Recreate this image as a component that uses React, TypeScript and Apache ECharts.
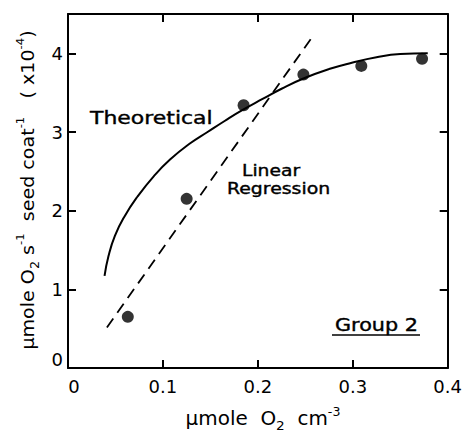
import React, { useEffect, useRef } from "react";
import * as echarts from "echarts";

const measuredPoints: [number, number][] = [
  [0.063, 0.65],
  [0.125, 2.15],
  [0.185, 3.34],
  [0.248, 3.73],
  [0.309, 3.84],
  [0.373, 3.93],
];

const theoreticalCurve: [number, number][] = [
  [0.0385, 1.17],
  [0.0426, 1.42],
  [0.0494, 1.68],
  [0.0597, 1.93],
  [0.0733, 2.18],
  [0.0905, 2.44],
  [0.1075, 2.65],
  [0.128, 2.85],
  [0.147, 3.0],
  [0.165, 3.14],
  [0.184, 3.28],
  [0.205, 3.42],
  [0.225, 3.55],
  [0.248, 3.68],
  [0.275, 3.8],
  [0.299, 3.88],
  [0.325, 3.95],
  [0.35, 3.99],
  [0.379, 4.0],
];

const regressionLine: [number, number][] = [
  [0.041, 0.515],
  [0.258, 4.22],
];

const xTicks = [0, 0.1, 0.2, 0.3, 0.4];
const yTicks = [0, 1, 2, 3, 4];

const FONT = "DejaVu Sans";

export default function App() {
  const ref = useRef<HTMLDivElement>(null);
  useEffect(() => {
    document.body.style.margin = "0";
    const chart = echarts.init(ref.current!, null, { renderer: "svg" });
    const axisLine = { show: true, onZero: false, lineStyle: { color: "#000", width: 2 } };
    const axisTick = { show: true, inside: true, length: 8, lineStyle: { color: "#000", width: 2 } };
    const nameRich = (size: number) => ({
      a: { fontSize: size, fontFamily: FONT, fill: "#000", color: "#000", lineHeight: 26 },
      sub: { fontSize: size - 6, fontFamily: FONT, color: "#000", verticalAlign: "bottom", lineHeight: 26 },
      sup: { fontSize: size - 7, fontFamily: FONT, color: "#000", verticalAlign: "top", lineHeight: 26 },
    });
    const textStyle = (text: string, size: number) => ({
      text,
      fontSize: size,
      fontFamily: FONT,
      fill: "#000",
      stroke: "#000",
      lineWidth: 0.4,
      textAlign: "left",
      textVerticalAlign: "middle",
    });
    chart.setOption({
      animation: false,
      backgroundColor: "#fff",
      grid: { left: 68, right: 6, top: 14, bottom: 66 },
      xAxis: [
        {
          type: "value",
          min: 0,
          max: 0.4,
          interval: 0.1,
          axisLine,
          axisTick,
          splitLine: { show: false },
          axisLabel: {
            color: "#000",
            fontSize: 18,
            fontFamily: FONT,
            margin: 9,
            formatter: (v: number) =>
              xTicks.some((t) => Math.abs(t - v) < 1e-9) ? (v === 0 ? "{z|0}" : v.toFixed(1)) : "",
            rich: { z: { fontSize: 18, fontFamily: FONT, color: "#000", padding: [0, 0, 0, 12] } },
          },
        },
        {
          type: "value",
          position: "top",
          min: 0,
          max: 0.4,
          interval: 0.1,
          axisLine,
          axisTick,
          splitLine: { show: false },
          axisLabel: { show: false },
        },
      ],
      yAxis: [
        {
          type: "value",
          min: 0,
          max: 4.5,
          interval: 1,
          axisLine,
          axisTick,
          splitLine: { show: false },
          axisLabel: {
            color: "#000",
            fontSize: 18,
            fontFamily: FONT,
            margin: 5,
            formatter: (v: number) => (v === 0 ? "{z|0}" : yTicks.includes(v) ? String(v) : ""),
            rich: { z: { fontSize: 18, fontFamily: FONT, color: "#000", padding: [0, 0, 18, 0] } },
          },
        },
        {
          type: "value",
          position: "right",
          min: 0,
          max: 4.5,
          interval: 1,
          axisLine,
          axisTick,
          splitLine: { show: false },
          axisLabel: { show: false },
        },
      ],
      series: [
        {
          type: "line",
          data: theoreticalCurve,
          smooth: 0.5,
          showSymbol: false,
          lineStyle: { color: "#000", width: 2 },
          silent: true,
        },
        {
          type: "line",
          data: regressionLine,
          showSymbol: false,
          lineStyle: { color: "#000", width: 1.8, type: [11, 7] },
          silent: true,
        },
        {
          type: "scatter",
          data: measuredPoints,
          symbol: "circle",
          symbolSize: 12,
          itemStyle: { color: "#000" },
          silent: true,
        },
      ],
      graphic: [
        { type: "text", x: 90, y: 118, scaleX: 1.22, style: textStyle("Theoretical", 18) },
        { type: "text", x: 242, y: 170, scaleX: 1.17, style: textStyle("Linear", 16) },
        { type: "text", x: 227, y: 189, scaleX: 1.18, style: textStyle("Regression", 16) },
        { type: "text", x: 335, y: 325, scaleX: 1.22, style: textStyle("Group 2", 17) },
        {
          type: "line",
          shape: { x1: 332, y1: 335, x2: 420, y2: 335 },
          style: { stroke: "#000", lineWidth: 1.5 },
        },
        {
          type: "text",
          x: 263,
          y: 419,
          scaleX: 1.05,
          style: {
            text: "{a|μmole  O}{sub|2}{a|  cm}{sup|-3}",
            rich: nameRich(19),
            fill: "#000",
            textAlign: "center",
            textVerticalAlign: "middle",
          },
        },
        {
          type: "text",
          x: 28,
          y: 190,
          rotation: Math.PI / 2,
          scaleX: 1.06,
          style: {
            text: "{a|μmole O}{sub|2}{a| s}{sup|-1}{a|  seed coat}{sup|-1}{a|   ( x10}{sup|-4}{a|)}",
            rich: nameRich(18),
            fill: "#000",
            textAlign: "center",
            textVerticalAlign: "middle",
          },
        },
      ],
    });
    return () => chart.dispose();
  }, []);
  return <div ref={ref} style={{ width: 465, height: 434 }} />;
}
